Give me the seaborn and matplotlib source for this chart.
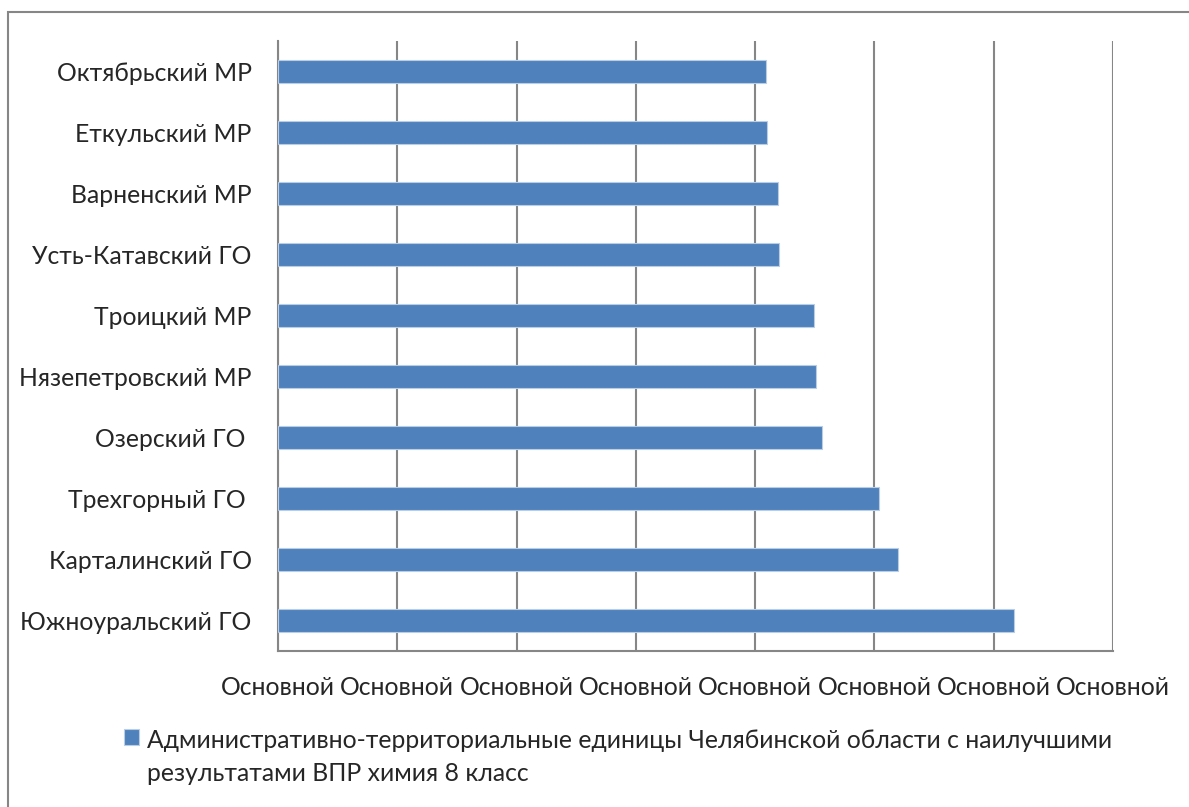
import matplotlib
matplotlib.use("Agg")
import matplotlib.pyplot as plt
import pandas as pd
import seaborn as sns
from matplotlib.patches import Rectangle

# data (top to bottom)
districts = [
    "Октябрьский МР",
    "Еткульский МР",
    "Варненский МР",
    "Усть-Катавский ГО",
    "Троицкий МР",
    "Нязепетровский МР",
    "Озерский ГО ",
    "Трехгорный ГО ",
    "Карталинский ГО",
    "Южноуральский ГО",
]
scores = [40.9, 41.0, 41.9, 42.0, 44.95, 45.1, 45.6, 50.4, 52.0, 61.7]
x_ticks = [0, 10, 20, 30, 40, 50, 60, 70]
x_tick_labels = ["Основной"] * len(x_ticks)
series_name = ("Административно-территориальные единицы Челябинской области с наилучшими\n"
               "результатами ВПР химия 8 класс")

df = pd.DataFrame({"district": districts, "score": scores})

sns.set_style("white")
plt.rcParams['font.family'] = ['Lato', 'DejaVu Sans']
fs = 17.8

fig = plt.figure(figsize=(11.89, 8.07), dpi=100)
ax = fig.add_axes([278/1189, 1-651/807, (1113-278)/1189, (651-41)/807])

grid_col = "#868686"
sns.barplot(data=df, x="score", y="district", orient="h", color="#4F81BD",
            saturation=1, width=0.39, ax=ax, label=series_name,
            edgecolor="#B9CDE5", linewidth=0.8, zorder=3)

ax.set_xlim(0, 70)
ax.set_ylim(len(districts) - 0.5, -0.5)
ax.set_xticks(x_ticks)
ax.set_xticklabels(x_tick_labels, fontsize=fs)
ax.set_yticks([i - 0.5 for i in range(len(districts) + 1)], minor=False)
ax.set_yticklabels([])
ax.set_yticks(range(len(districts)), minor=True)
ax.set_yticklabels(districts, minor=True, fontsize=fs)
ax.tick_params(axis="y", which="minor", length=0, pad=19)
ax.tick_params(axis="y", which="major", length=8, width=1.5, color=grid_col)
ax.tick_params(axis="x", length=8, width=1.5, color=grid_col, pad=10)
ax.set_xlabel("")
ax.set_ylabel("")

ax.xaxis.grid(True, color=grid_col, linewidth=1.5, zorder=0)
ax.set_axisbelow(True)
for side in ["top", "right"]:
    ax.spines[side].set_visible(False)
for side in ["left", "bottom"]:
    ax.spines[side].set_color(grid_col)
    ax.spines[side].set_linewidth(1.5)

leg = ax.legend(loc="upper left", bbox_to_anchor=(124/1189, 1-729/807),
                bbox_transform=fig.transFigure, frameon=False, fontsize=fs,
                handlelength=0.62, handleheight=0.62, handletextpad=0.3,
                borderaxespad=0, borderpad=0)
for t in leg.get_texts():
    t.set_linespacing(1.55)
# put the square next to the first line, like in the original
for col in leg._legend_handle_box.get_children():
    for hp in col.get_children():
        hp.align = "top"

# outer chart frame
fig.patches.append(Rectangle((8/1189, -0.05), 1.2, 1 - 12/807 + 0.05,
                             transform=fig.transFigure, fill=False,
                             edgecolor="#868686", linewidth=1.5))

fig.savefig("out.png", dpi=100)
